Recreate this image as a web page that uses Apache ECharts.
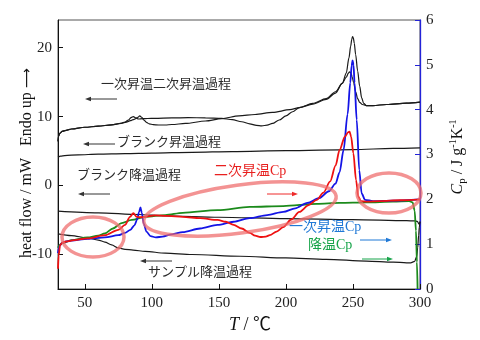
<!DOCTYPE html>
<html><head><meta charset="utf-8">
<script src="https://cdn.jsdelivr.net/npm/echarts@6/dist/echarts.min.js"></script>
<style>html,body{margin:0;padding:0;background:#fff}#c{width:480px;height:340px}</style>
</head><body><div id="c"></div>
<script>
// ---- data ----
// 1st heating heat flow (mW)
const tHeat1 = [30,30.5,31.5,33,36,40,50,60,70,77,81,84,86,88,89.5,91,92.5,94,96,98,101,105,110,115,125,140,152,165,177,190,203,210,220,230,237,242,245,247,248.3,249.1,249.7,250.3,251,252,253.5,255,256.5,258,260,265,275,290,300];
const hfHeat1 = [6.4,7.2,7.6,7.85,8.0,8.2,8.45,8.6,8.8,9.0,9.2,9.4,9.55,9.7,9.9,10.1,9.9,9.5,9.15,8.95,8.82,8.78,8.78,8.85,9.0,9.36,9.7,10.1,10.3,10.6,11.0,11.3,11.8,12.5,13.4,14.8,16.3,18.5,20.2,21.2,21.6,21.4,20.6,19.0,16.6,14.4,12.7,11.9,11.6,11.6,11.75,11.95,12.1];
// 2nd heating heat flow (mW)
const tHeat2 = [30,30.5,31.5,33,36,40,50,60,70,77,80,82.5,84.5,86.2,88,90,93,97,102,115,127,140,152,160,167,173,178,182,186,190,195,200,205,210,220,230,237,242,245,246.6,247.5,248.5,249.5,250.5,252,253.5,255,257,260,265,275,290,300];
const hfHeat2 = [6.4,7.2,7.6,7.85,8.0,8.2,8.45,8.6,8.8,9.03,9.2,9.5,9.85,10.0,9.8,9.65,9.7,9.72,9.75,9.8,9.84,9.82,9.75,9.55,9.25,8.95,8.72,8.65,8.75,9.0,9.5,10.1,10.7,11.3,11.9,12.6,13.6,14.8,15.7,16.3,16.5,16.3,15.7,14.9,13.6,12.6,12.05,11.75,11.6,11.6,11.75,11.95,12.1];
// blank heating / blank cooling / sample cooling heat flow (mW)
const tBlankHeat = [30,32,35,45,60,80,100,130,160,200,250,280,300];
const hfBlankHeat = [4.1,4.25,4.35,4.45,4.55,4.62,4.7,4.82,4.92,5.05,5.22,5.38,5.47];
const tBlankCool = [30,60,90,110,150,200,250,290,296,298,299.3,300];
const hfBlankCool = [-3.7,-3.95,-4.2,-4.4,-4.6,-4.8,-4.95,-5.1,-5.12,-5.2,-5.6,-5.3];
const tSampleCool = [30,40,52,60,65,70,75,80,86,95,110,130,166,200,230,260,280,290,293,296,297.5,298.3,299,299.5,300];
const hfSampleCool = [-7.0,-7.25,-7.6,-7.9,-8.2,-8.6,-9.05,-9.25,-9.35,-9.55,-9.8,-10.0,-10.25,-10.5,-10.7,-10.95,-11.1,-11.2,-11.2,-11.0,-10.3,-9.0,-7.2,-6.0,-5.2];
// Cp (J g-1 K-1)
const tCp1 = [30,30.5,31.5,33,36,40,52,65,75,80,84,87,89,90.5,91.5,92.5,94,96,99,103,108,115,123,136,149,161,173,186,198,207,216,225,232,237,240,243,246,248,249,249.7,250.4,251.2,252.8,254.7,256.5,259,265,280,300];
const cp1 = [0.8,0.9,0.97,1.03,1.06,1.08,1.12,1.15,1.2,1.25,1.32,1.42,1.55,1.72,1.82,1.7,1.45,1.28,1.18,1.15,1.17,1.22,1.27,1.35,1.43,1.5,1.58,1.65,1.72,1.8,1.92,2.03,2.18,2.35,2.6,3.1,3.9,4.6,4.98,5.1,5.0,4.6,3.77,2.65,2.13,1.99,1.96,1.97,2.0];
const tCp2 = [30,30.5,31.5,33,36,42,52,65,75,80,83.7,86.2,88.7,92,97,102,112,123,136,149,155,161,167,173,177,181,185,188,193,198,204,210,217,223,228,233,237,240,244,246.5,247.5,248.6,250.3,252.3,254,256,260,270,285,300];
const cp2 = [0.45,0.75,0.97,1.03,1.06,1.09,1.13,1.2,1.32,1.43,1.61,1.69,1.61,1.6,1.62,1.64,1.63,1.61,1.58,1.54,1.5,1.43,1.35,1.25,1.19,1.16,1.17,1.2,1.28,1.38,1.55,1.72,1.87,1.99,2.15,2.4,2.75,3.1,3.4,3.5,3.51,3.4,3.03,2.43,2.06,1.96,1.95,1.96,1.98,2.0];
const tCpCool = [30,31,33,40,52,60,65,71,77.5,85,95,110,123,149,173,198,223,240,260,280,292,294.5,296,297,297.7,298.2];
const cpCool = [0.92,0.98,1.02,1.09,1.15,1.19,1.24,1.35,1.47,1.54,1.61,1.65,1.7,1.76,1.83,1.85,1.9,1.92,1.93,1.95,1.96,1.93,1.75,1.3,0.6,0];
// ticks
const xTicks = [50,100,150,200,250,300];
const hfTicks = [-10,0,10,20];
const cpTicks = [0,1,2,3,4,5,6];

// ---- chart ----
function zip(a,b){return a.map((t,i)=>[t,b[i]]);}
const SERIF = "'Liberation Serif','Times New Roman',serif";
const MIX = "'Liberation Serif','Noto Sans CJK JP',serif";
const JP = "'Noto Sans CJK JP',sans-serif";

function blackLine(name,t,v){
  return {name,type:'line',xAxisIndex:0,yAxisIndex:0,data:zip(t,v),showSymbol:false,smooth:0.3,smoothMonotone:'x',
    lineStyle:{color:'#1a1a1a',width:1.2},z:2,animation:false,silent:true};
}
function cpLine(name,t,v,color){
  return {name,type:'line',xAxisIndex:0,yAxisIndex:1,data:zip(t,v),showSymbol:false,smooth:0.3,smoothMonotone:'x',
    lineStyle:{color,width:1.8},z:3,animation:false,silent:true};
}
function arrow(x1,x2,y,color){
  const d = Math.sign(x2-x1);
  return {type:'group',z:50,children:[
    {type:'line',shape:{x1:x1,y1:y,x2:x2-d*4,y2:y},style:{stroke:color,lineWidth:1}},
    {type:'polygon',shape:{points:[[x2,y],[x2-d*6,y-2.3],[x2-d*6,y+2.3]]},style:{fill:color}}
  ]};
}
function label(txt,x,y,color,size,fam){
  return {type:'text',x:x,y:y,z:50,style:{text:txt,fill:color,font:size+'px '+(fam||MIX),align:'left',verticalAlign:'middle'}};
}
function ell(cx,cy,rx,ry,rot){
  return {type:'ellipse',x:cx,y:cy,rotation:rot||0,z:60,shape:{cx:0,cy:0,rx:rx,ry:ry},
    style:{fill:'none',stroke:'rgba(238,105,105,0.72)',lineWidth:3.5}};
}

const chart = echarts.init(document.getElementById('c'));
chart.setOption({
  animation:false,
  backgroundColor:'#fff',
  grid:{left:58,right:60,top:20,bottom:51,show:true,borderColor:'#555',borderWidth:1},
  xAxis:{type:'value',min:30,max:300,
    axisLine:{onZero:false,lineStyle:{color:'#111',width:1}},
    axisTick:{inside:true,length:5,customValues:xTicks,lineStyle:{color:'#111'}},
    axisLabel:{customValues:xTicks,fontFamily:SERIF,fontSize:15,color:'#222',margin:7},
    splitLine:{show:false}},
  yAxis:[
    {type:'value',position:'left',min:-15,max:24,
      axisLine:{show:true,onZero:false,lineStyle:{color:'#111',width:1}},
      axisTick:{show:true,inside:true,length:5,customValues:hfTicks,lineStyle:{color:'#111'}},
      axisLabel:{customValues:hfTicks,fontFamily:SERIF,fontSize:15,color:'#222',margin:6},
      splitLine:{show:false}},
    {type:'value',position:'right',min:0,max:6,interval:1,
      axisLine:{show:true,onZero:false,lineStyle:{color:'#2323d8',width:1.3}},
      axisTick:{show:true,inside:true,length:5,lineStyle:{color:'#2323d8'}},
      axisLabel:{fontFamily:SERIF,fontSize:15,color:'#222',margin:6},
      splitLine:{show:false}}
  ],
  series:[
    blackLine('blankHeat',tBlankHeat,hfBlankHeat),
    blackLine('blankCool',tBlankCool,hfBlankCool),
    blackLine('sampleCool',tSampleCool,hfSampleCool),
    blackLine('heat2',tHeat2,hfHeat2),
    blackLine('heat1',tHeat1,hfHeat1),
    cpLine('cpCool',tCpCool,cpCool,'#1b8a1b'),
    cpLine('cp1',tCp1,cp1,'#1414e6'),
    cpLine('cp2',tCp2,cp2,'#ee1111')
  ],
  graphic:[
    // axis names
    {type:'text',x:27,y:163,rotation:Math.PI/2,z:50,style:{
      text:'{n|heat flow / mW   Endo up }{a|\u27f6}',fill:'#111',align:'center',verticalAlign:'middle',
      rich:{n:{fontFamily:SERIF,fontSize:16},a:{fontFamily:"'DejaVu Sans',sans-serif",fontSize:14}}}},
    {type:'text',x:458,y:157,rotation:Math.PI/2,z:50,style:{
      text:'{i|C}{s|p}{n| / J g}{u|-1}{n|K}{u|-1}',fill:'#111',align:'center',verticalAlign:'middle',
      rich:{i:{fontFamily:SERIF,fontSize:16,fontStyle:'italic',lineHeight:20,verticalAlign:'middle'},
            n:{fontFamily:SERIF,fontSize:16,lineHeight:20,verticalAlign:'middle'},
            s:{fontFamily:SERIF,fontSize:11,lineHeight:20,verticalAlign:'bottom'},
            u:{fontFamily:SERIF,fontSize:10,lineHeight:20,verticalAlign:'top'}}}},
    {type:'text',x:250,y:325,z:50,style:{
      text:'{i|T}{n| / \u2103}',fill:'#111',align:'center',verticalAlign:'middle',
      rich:{i:{fontFamily:SERIF,fontSize:18,fontStyle:'italic'},n:{fontFamily:MIX,fontSize:18}}}},
    // annotations
    label('一次昇温二次昇温過程',101,83,'#2a2a2a',13,JP),
    label('ブランク昇温過程',117,141,'#2a2a2a',13,JP),
    label('ブランク降温過程',77,174,'#2a2a2a',13,JP),
    label('サンプル降温過程',148,271,'#2a2a2a',13,JP),
    label('二次昇温Cp',214,171,'#e8201f',14),
    label('一次昇温Cp',289,227,'#1f78d6',14),
    label('降温Cp',308,245,'#17a44a',14),
    arrow(117,85,99,'#333'),
    arrow(115,83,144,'#333'),
    arrow(110,78,194,'#333'),
    arrow(172,140,261,'#333'),
    arrow(267,298,194,'#ee2a2a'),
    arrow(360,392,240,'#1f78d6'),
    arrow(362,393,259,'#17a44a'),
    // highlight ellipses
    ell(93,237,31,20,0),
    ell(240,209,97,24,0.134),
    ell(389,193,32,20,0)
  ]
});
</script></body></html>
